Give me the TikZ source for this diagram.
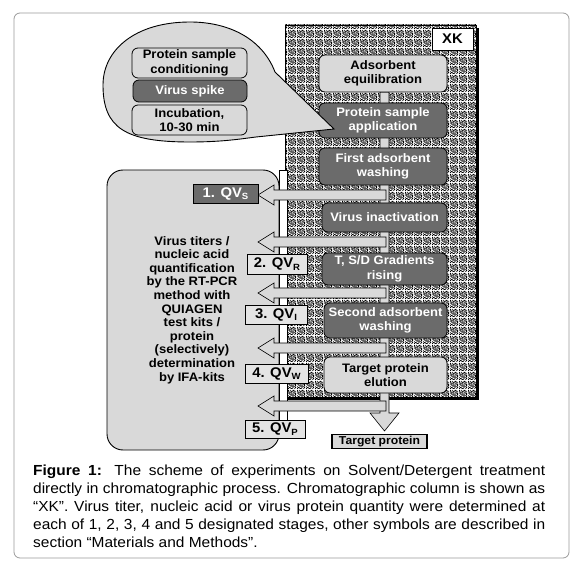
\documentclass[tikz,border=0pt]{standalone}
\usepackage{fontspec}
\setmainfont{Liberation Sans}[FakeStretch=1.06]
\usetikzlibrary{patterns}
\newcommand{\pdot}[2]{\pgfpathrectangle{\pgfqpoint{#1pt}{#2pt}}{\pgfqpoint{1pt}{1pt}}}
\pgfdeclarepatternformonly{speckle}{\pgfqpoint{0pt}{0pt}}{\pgfqpoint{9pt}{9pt}}{\pgfqpoint{9pt}{9pt}}{%
\pdot{0}{0}\pdot{3}{0}\pdot{4}{0}\pdot{7}{0}%
\pdot{1}{1}\pdot{2}{1}\pdot{5}{1}\pdot{8}{1}%
\pdot{0}{2}\pdot{4}{2}\pdot{6}{2}\pdot{7}{2}%
\pdot{2}{3}\pdot{3}{3}\pdot{5}{3}\pdot{8}{3}%
\pdot{1}{4}\pdot{4}{4}\pdot{6}{4}\pdot{8}{4}%
\pdot{0}{5}\pdot{2}{5}\pdot{3}{5}\pdot{7}{5}\pdot{8}{5}%
\pdot{1}{6}\pdot{3}{6}\pdot{5}{6}\pdot{6}{6}%
\pdot{0}{7}\pdot{3}{7}\pdot{4}{7}\pdot{7}{7}\pdot{8}{7}%
\pdot{0}{8}\pdot{2}{8}\pdot{5}{8}\pdot{6}{8}%
\pgfusepath{fill}}
\definecolor{lg}{HTML}{D9D9D9}
\definecolor{dg}{HTML}{6B6B6B}
\definecolor{qg}{HTML}{E4E4E4}
\definecolor{framegray}{HTML}{9A9A9A}
\newcommand{\sbs}[1]{\raisebox{-0.35ex}{\fontsize{9}{9}\selectfont #1}}
\begin{document}
\begin{tikzpicture}[x=1pt,y=-1pt,
 boxfont/.style={font=\bfseries\fontsize{12.3}{14.5}\selectfont},
 lbox/.style={draw=black,line width=0.8pt,fill=lg,rounded corners=6pt,align=center,inner sep=0pt,boxfont},
 dbox/.style={lbox,fill=dg,text=white},
 qvbox/.style={draw=black,line width=0.8pt,fill=qg,inner sep=0pt,font=\bfseries\fontsize{14}{16}\selectfont},
 flow/.style={draw=black,line width=0.6pt,fill=lg},
 captxt/.style={anchor=base west,inner sep=0pt,font=\fontsize{14.6}{18}\selectfont}
]
\useasboundingbox (0,0) rectangle (581,569);
\draw[framegray,line width=0.8pt,rounded corners=6pt] (14,13) rectangle (569,558);

% column XK
\fill[black] (288,28) rectangle (479,400);
\fill[white] (285,25) rectangle (476,397);
\fill[pattern=speckle] (285,25) rectangle (476,397);
\draw[line width=0.8pt] (285,25) rectangle (476,397);
\node[draw=black,line width=0.6pt,fill=white,minimum width=41pt,minimum height=22pt,inner sep=0pt,font=\bfseries\fontsize{14}{16}\selectfont] (xk) at (452.5,39) {XK};

% flow bar and output arrow
\draw[flow] (380,92) -- (380,413) -- (370,413) -- (384.5,431) -- (399,413) -- (389,413) -- (389,92) -- cycle;

% column boxes
\node[lbox,minimum width=128pt,minimum height=37pt] (eq) at (383,73.5) {Adsorbent\\equilibration};
\node[dbox,minimum width=128pt,minimum height=35pt] (app) at (383,120.5) {Protein sample\\application};
\node[dbox,minimum width=128pt,minimum height=37pt] (wash1) at (383,166.5) {First adsorbent\\washing};
\node[dbox,minimum width=125pt,minimum height=29pt] (inact) at (384.5,217.5) {Virus inactivation};
\node[dbox,minimum width=125pt,minimum height=32pt] (grad) at (384.5,269) {T, S/D Gradients\\rising};
\node[dbox,minimum width=123pt,minimum height=35pt] (wash2) at (385.5,320.5) {Second adsorbent\\washing};
\node[lbox,minimum width=123pt,minimum height=36pt] (elu) at (385.5,375) {Target protein\\elution};

% left panel
\draw[line width=0.9pt,fill=lg,rounded corners=16pt] (107,170) rectangle (279,450);
\node[align=center,inner sep=0pt,font=\bfseries\fontsize{12.3}{13.6}\selectfont] (txt) at (192,310) {Virus titers /\\nucleic acid\\quantification\\by the RT-PCR\\method with\\QUIAGEN\\test kits /\\protein\\(selectively)\\determination\\by IFA-kits};
\draw[line width=0.7pt,fill=white] (279,170) rectangle (287,422);

% sampling arrows
\foreach \c in {195,242,293,348,406}
  \draw[flow] (386,\c-5) -- (274,\c-5) -- (274,\c-10) -- (258,\c) -- (274,\c+10) -- (274,\c+5) -- (386,\c+5) -- cycle;

% QV boxes
\node[qvbox,fill=dg,text=white,minimum width=65pt,minimum height=19pt] (qv1) at (225.5,193.5) {1. QV\sbs{S}};
\node[qvbox,minimum width=60pt,minimum height=20pt] (qv2) at (277,264) {2. QV\sbs{R}};
\node[qvbox,minimum width=62pt,minimum height=19pt] (qv3) at (276,314.5) {3. QV\sbs{I}};
\node[qvbox,minimum width=63pt,minimum height=19pt] (qv4) at (276.5,373.5) {4. QV\sbs{W}};
\node[qvbox,minimum width=60pt,minimum height=18pt] (qv5) at (275,429) {5. QV\sbs{P}};

% bubble
\draw[line width=0.9pt,fill=lg] (275,72) .. controls (262,38) and (228,22) .. (190,22)
  .. controls (135,22) and (103,50) .. (103,85)
  .. controls (103,128) and (125,142) .. (190,142)
  .. controls (222,142) and (240,139) .. (256,137) -- (334,129) -- cycle;
\node[lbox,minimum width=115pt,minimum height=30pt] (cond) at (189.5,63) {Protein sample\\conditioning};
\node[dbox,minimum width=114pt,minimum height=22pt] (spike) at (190,91) {Virus spike};
\node[lbox,minimum width=115pt,minimum height=30pt] (incub) at (189.5,120) {Incubation,\\10-30 min};

% product
\node[draw=black,line width=1.8pt,fill=lg,minimum width=95pt,minimum height=14pt,inner sep=0pt,font=\bfseries\fontsize{11.5}{13}\selectfont] (prod) at (379.5,441.5) {Target protein};

% caption
\node[captxt] (c1) at (33,475) {\makebox[512pt][s]{\textbf{Figure 1:} The scheme of experiments on Solvent/Detergent treatment}};
\node[captxt] (c2) at (33,493.1) {\makebox[512pt][s]{directly in chromatographic process. Chromatographic column is shown as}};
\node[captxt] (c3) at (33,511.2) {\makebox[512pt][s]{“XK”. Virus titer, nucleic acid or virus protein quantity were determined at}};
\node[captxt] (c4) at (33,529.3) {\makebox[512pt][s]{each of 1, 2, 3, 4 and 5 designated stages, other symbols are described in}};
\node[captxt] (c5) at (33,547.4) {section “Materials and Methods”.};
\end{tikzpicture}
\end{document}
